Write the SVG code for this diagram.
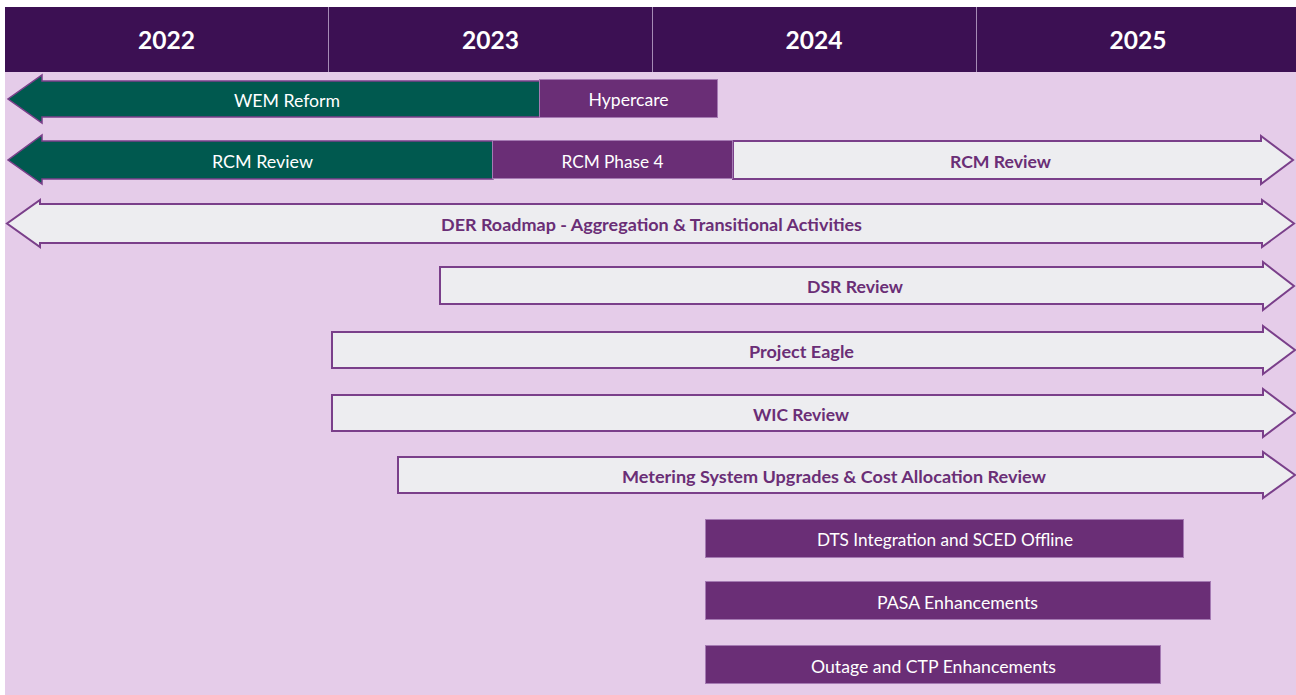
<svg xmlns="http://www.w3.org/2000/svg" width="1296" height="695" viewBox="0 0 1296 695">
  <style>
    .hdr { fill: #3C1053; }
    .div { stroke: #A58BB5; stroke-width: 1; }
    .yr { font-family: Lato, "Liberation Sans", sans-serif; font-weight: 700; font-size: 24px; fill: #FFFFFF; text-anchor: middle; }
    .green { fill: #00594F; stroke: #7A3F8A; stroke-width: 1.5; stroke-linejoin: miter; }
    .plum { fill: #6A2E76; stroke: #A57AB3; stroke-width: 1; }
    .pale { fill: #EDEDF0; stroke: #7A3F8A; stroke-width: 2; stroke-linejoin: miter; }
    .lbl { font-family: Lato, "Liberation Sans", sans-serif; font-size: 17px; fill: #FFFFFF; text-anchor: middle; }
    .lblp { font-family: Lato, "Liberation Sans", sans-serif; font-weight: 700; font-size: 17px; fill: #6A2E76; text-anchor: middle; }
  </style>

  <!-- canvas -->
  <rect x="0" y="0" width="1296" height="695" fill="#FFFFFF"/>
  <rect x="5" y="72" width="1291" height="623" fill="#E5CCE9"/>

  <!-- year header -->
  <g id="header">
    <rect class="hdr" x="5" y="7" width="1291" height="65"/>
    <line class="div" x1="328.5" y1="7" x2="328.5" y2="72"/>
    <line class="div" x1="652.5" y1="7" x2="652.5" y2="72"/>
    <line class="div" x1="976.5" y1="7" x2="976.5" y2="72"/>
    <text class="yr" x="166.5" y="49" textLength="57" lengthAdjust="spacingAndGlyphs">2022</text>
    <text class="yr" x="490.5" y="49" textLength="57" lengthAdjust="spacingAndGlyphs">2023</text>
    <text class="yr" x="814" y="49" textLength="57" lengthAdjust="spacingAndGlyphs">2024</text>
    <text class="yr" x="1138" y="49" textLength="57" lengthAdjust="spacingAndGlyphs">2025</text>
  </g>

  <!-- row 1: WEM Reform + Hypercare -->
  <g id="wem-reform">
    <polygon class="green" points="540,81 42,81 42,75 8,99 42,123 42,117 540,117"/>
    <text class="lbl" x="287" y="107" textLength="106" lengthAdjust="spacingAndGlyphs">WEM Reform</text>
  </g>
  <g id="hypercare">
    <rect class="plum" x="539.5" y="79.5" width="178" height="38"/>
    <text class="lbl" x="628.5" y="106" textLength="80" lengthAdjust="spacingAndGlyphs">Hypercare</text>
  </g>

  <!-- row 2: RCM Review / Phase 4 / RCM Review -->
  <g id="rcm-review-past">
    <polygon class="green" points="493,141 42,141 42,135 8,160 42,184 42,179 493,179"/>
    <text class="lbl" x="262.5" y="168" textLength="101" lengthAdjust="spacingAndGlyphs">RCM Review</text>
  </g>
  <g id="rcm-review-future">
    <polygon class="pale" points="733,141 1261,141 1261,136 1293,160 1261,184 1261,179 733,179"/>
    <text class="lblp" x="1000.5" y="168" textLength="101" lengthAdjust="spacingAndGlyphs">RCM Review</text>
  </g>
  <g id="rcm-phase-4">
    <rect class="plum" x="492.5" y="140.5" width="240" height="38"/>
    <text class="lbl" x="612.5" y="168" textLength="102" lengthAdjust="spacingAndGlyphs">RCM Phase 4</text>
  </g>

  <!-- row 3: DER Roadmap -->
  <g id="der-roadmap">
    <polygon class="pale" points="40,204 1262,204 1262,200 1294,223.5 1262,247 1262,243 40,243 40,247 7,223.5 40,200"/>
    <text class="lblp" x="651.5" y="231" textLength="421" lengthAdjust="spacingAndGlyphs">DER Roadmap - Aggregation &amp; Transitional Activities</text>
  </g>

  <!-- row 4: DSR Review -->
  <g id="dsr-review">
    <polygon class="pale" points="440,267 1263,267 1263,262 1294,286 1263,310 1263,304 440,304"/>
    <text class="lblp" x="855" y="293" textLength="96" lengthAdjust="spacingAndGlyphs">DSR Review</text>
  </g>

  <!-- row 5: Project Eagle -->
  <g id="project-eagle">
    <polygon class="pale" points="332,332 1263,332 1263,326 1295,350 1263,374 1263,368 332,368"/>
    <text class="lblp" x="801.5" y="358" textLength="105" lengthAdjust="spacingAndGlyphs">Project Eagle</text>
  </g>

  <!-- row 6: WIC Review -->
  <g id="wic-review">
    <polygon class="pale" points="332,395 1263,395 1263,389 1295,413 1263,437 1263,431 332,431"/>
    <text class="lblp" x="801" y="421" textLength="96" lengthAdjust="spacingAndGlyphs">WIC Review</text>
  </g>

  <!-- row 7: Metering -->
  <g id="metering-review">
    <polygon class="pale" points="398,457 1263,457 1263,452 1295,475 1263,498 1263,493 398,493"/>
    <text class="lblp" x="834" y="483" textLength="424" lengthAdjust="spacingAndGlyphs">Metering System Upgrades &amp; Cost Allocation Review</text>
  </g>

  <!-- rows 8-10: 2024/2025 work items -->
  <g id="dts-integration">
    <rect class="plum" x="705.5" y="519.5" width="478" height="38"/>
    <text class="lbl" x="945" y="546" textLength="256" lengthAdjust="spacingAndGlyphs">DTS Integration and SCED Offline</text>
  </g>
  <g id="pasa-enhancements">
    <rect class="plum" x="705.5" y="581.5" width="505" height="38"/>
    <text class="lbl" x="957.5" y="609" textLength="161" lengthAdjust="spacingAndGlyphs">PASA Enhancements</text>
  </g>
  <g id="outage-ctp-enhancements">
    <rect class="plum" x="705.5" y="645.5" width="455" height="38"/>
    <text class="lbl" x="933.5" y="673" textLength="245" lengthAdjust="spacingAndGlyphs">Outage and CTP Enhancements</text>
  </g>

  <!-- no connectors in this chart -->
  <g id="connectors"/>
</svg>
